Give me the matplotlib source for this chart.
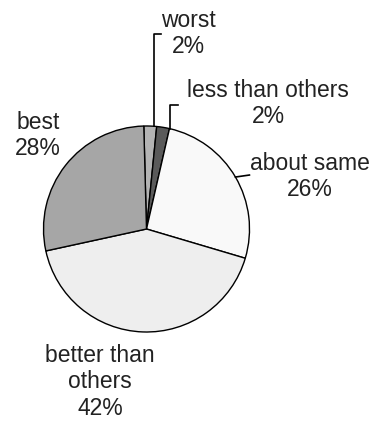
import matplotlib
matplotlib.use('Agg')
import matplotlib.pyplot as plt
import numpy as np

# Data
labels = ['worst', 'less than others', 'about same', 'better than\nothers', 'best']
values = [2, 2, 26, 42, 28]
colors = ['#b4b4b4', '#5a5a5a', '#f9f9f9', '#eeeeee', '#a6a6a6']

W, H = 374, 424
plt.rcParams['font.family'] = ['Liberation Sans', 'DejaVu Sans']

fig = plt.figure(figsize=(W / 100, H / 100), dpi=100)
fig.patch.set_facecolor('white')
ax = fig.add_axes([0, 0, 1, 1])

cx, cy, r = 146.5, H - 229, 103
wedges, _ = ax.pie(values, colors=colors, startangle=91.5, counterclock=False,
                   center=(cx, cy), radius=r, frame=True,
                   wedgeprops=dict(edgecolor='black', linewidth=1.0))
ax.set_xlim(0, W)
ax.set_ylim(0, H)
ax.set_aspect('equal')
ax.axis('off')

fs = 16.5
# label text positions (pixel coords from top of first line)
label_pos = [(188, 20), (268, 90), (310, 163), (100, 355), (38, 122)]
line_gap = 27

for lab, v, (px, py) in zip(labels, values, label_pos):
    txt = f'{lab}\n{v}%'
    ax.text(px, H - py - line_gap * txt.count('\n') / 2, txt, ha='center', va='center',
            fontsize=fs, color='#222222', linespacing=1.2)

def top_edge(x):
    return cy + np.sqrt(r ** 2 - (x - cx) ** 2)

# leader lines
x0 = 154
ax.plot([x0, x0, x0 + 7], [top_edge(x0), H - 34, H - 34], color='black', lw=1.2)
x1 = 170
ax.plot([x1, x1, x1 + 8], [top_edge(x1), H - 105, H - 105], color='black', lw=1.2)
w = wedges[2]
ang = np.deg2rad((w.theta1 + w.theta2) / 2)
ex, ey = cx + r * np.cos(ang), cy + r * np.sin(ang)
ax.plot([ex, ex + 14], [ey, ey + 2], color='black', lw=1.2)

fig.savefig('out.png', dpi=100, facecolor='white')
